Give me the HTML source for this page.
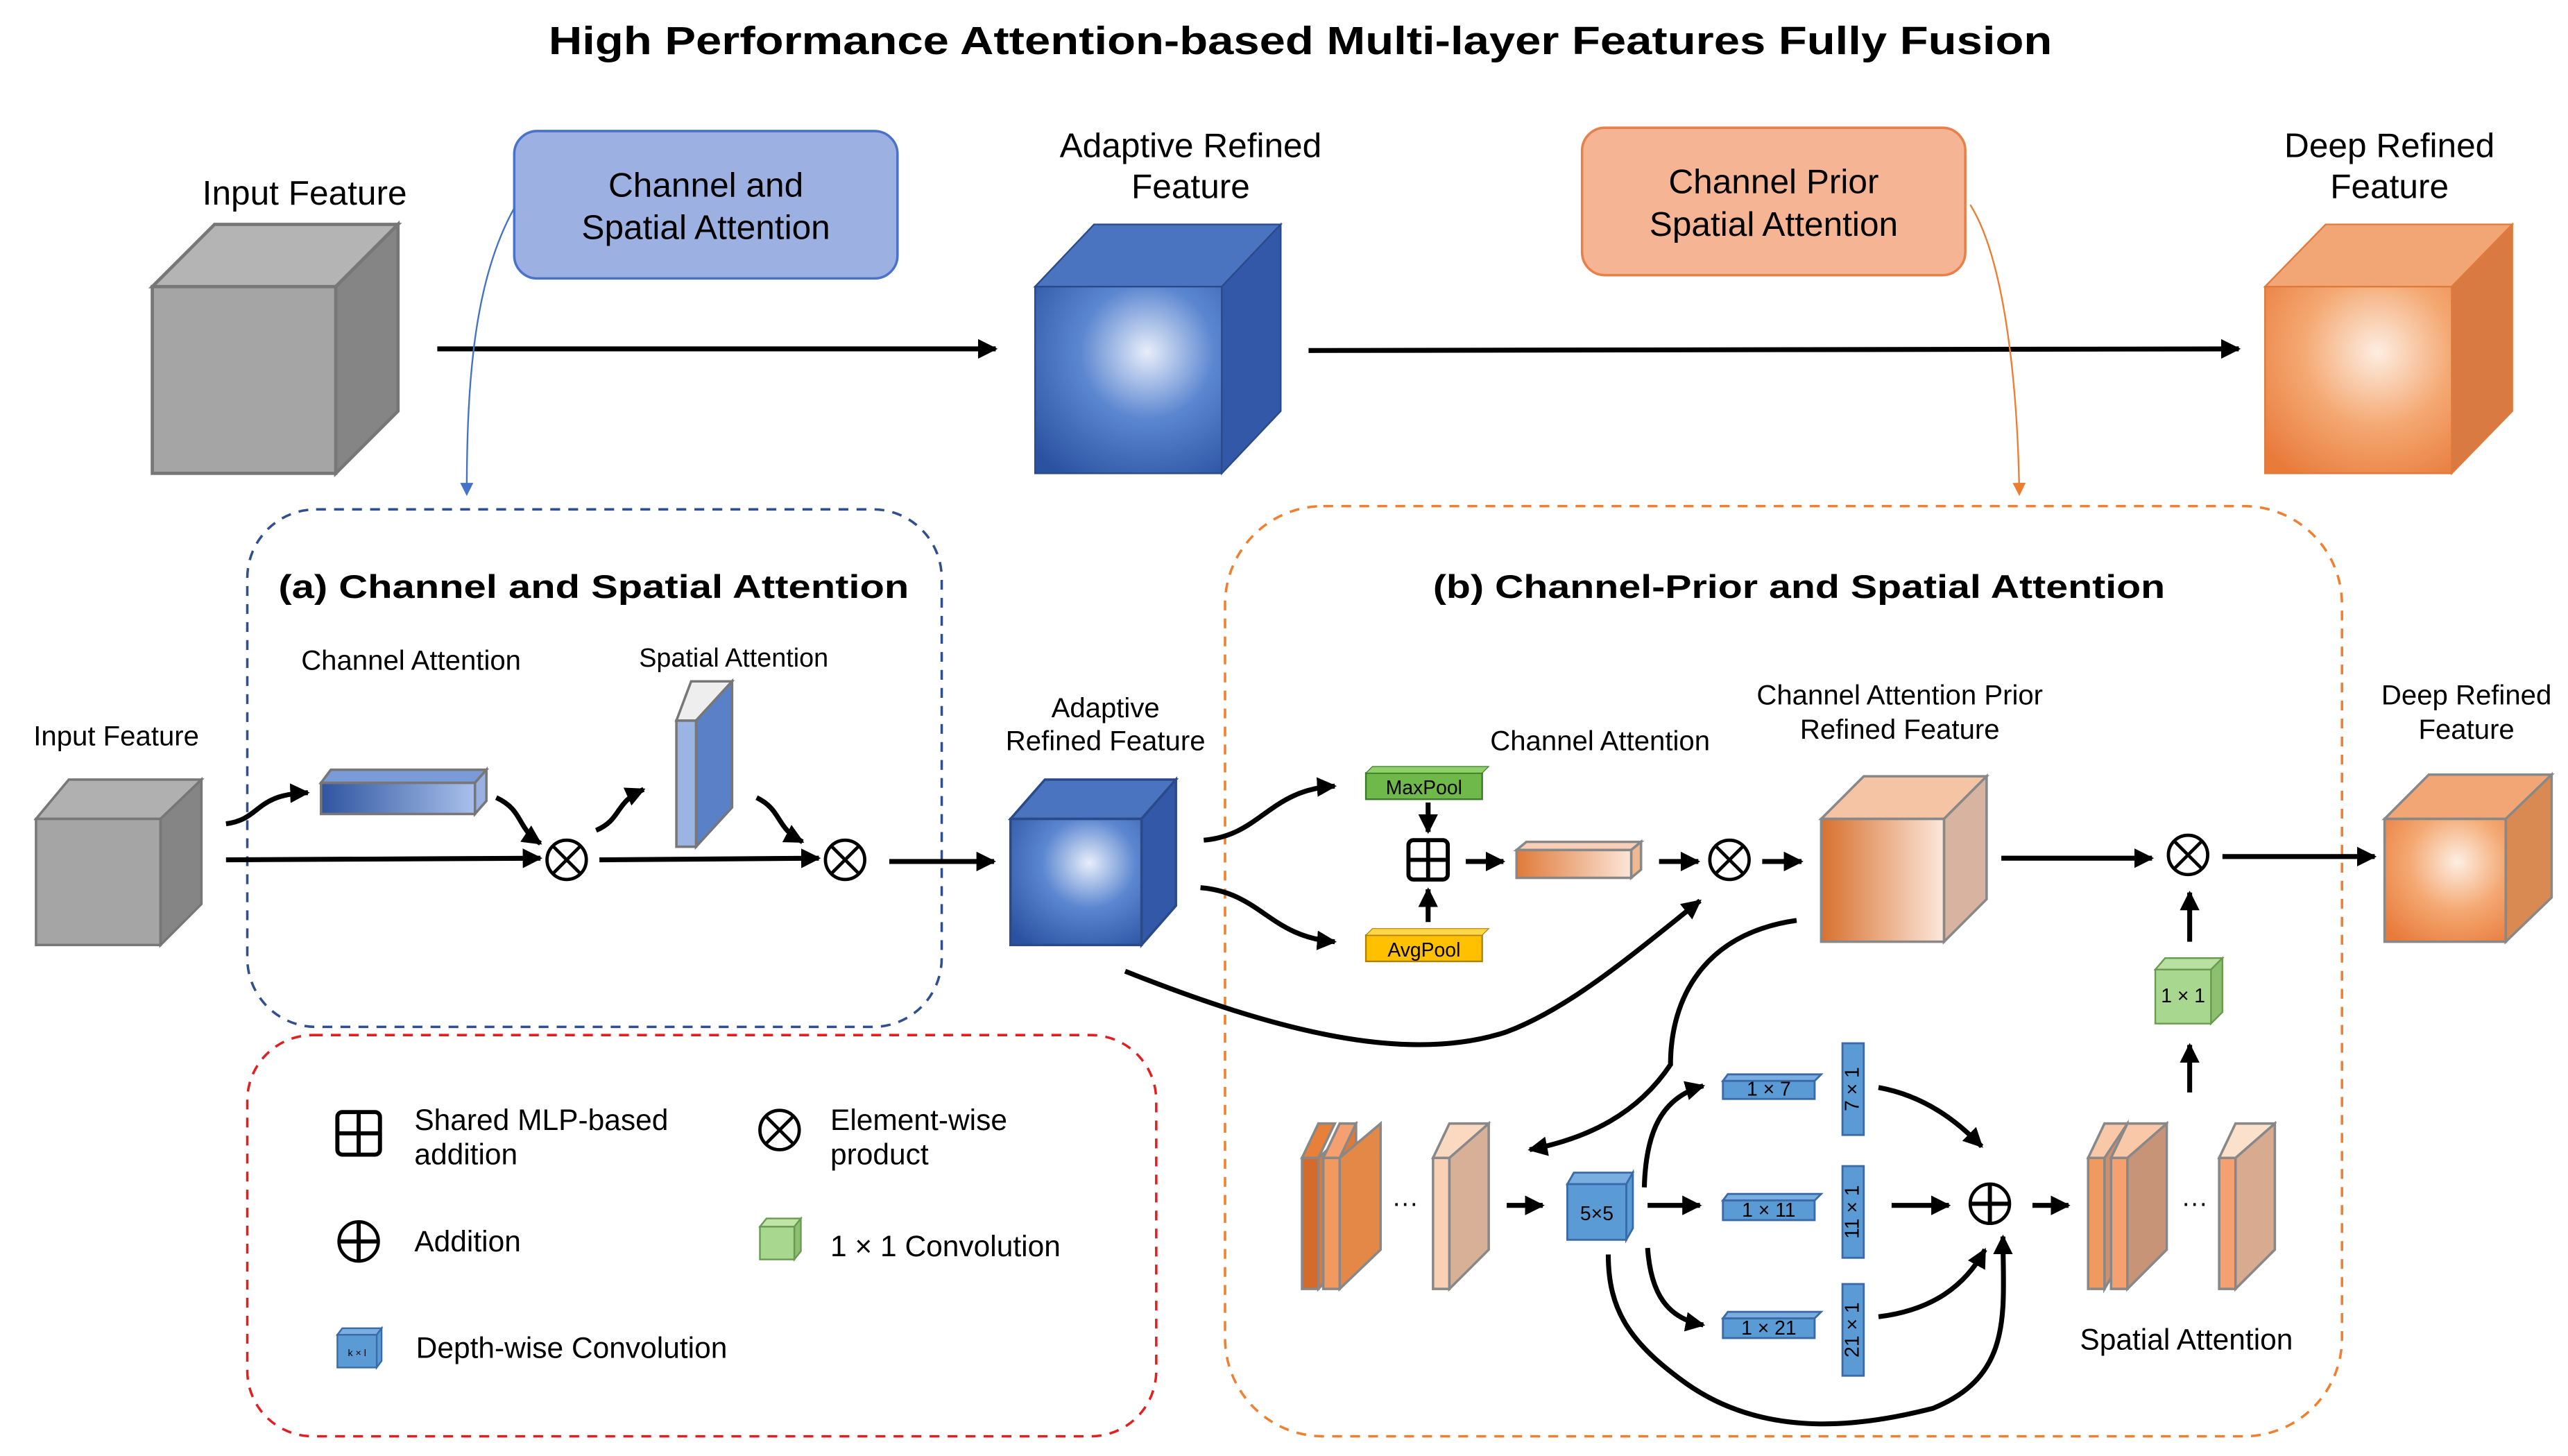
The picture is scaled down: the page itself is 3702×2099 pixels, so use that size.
<!DOCTYPE html>
<html><head><meta charset="utf-8"><style>html,body{margin:0;padding:0;background:#fff}svg{display:block}text{font-family:"Liberation Sans",Arial,sans-serif}</style></head>
<body>
<svg width="3702" height="2099" viewBox="0 0 1568 889" xmlns="http://www.w3.org/2000/svg">
<defs>
<radialGradient id="bl" cx="0.6" cy="0.35" r="0.8"><stop offset="0" stop-color="#e8eefa"/><stop offset="0.45" stop-color="#5b86d0"/><stop offset="1" stop-color="#2a52a0"/></radialGradient>
<radialGradient id="or" cx="0.6" cy="0.35" r="0.8"><stop offset="0" stop-color="#fdeee2"/><stop offset="0.5" stop-color="#f4a872"/><stop offset="1" stop-color="#e87a3a"/></radialGradient>
<linearGradient id="obar" x1="0" x2="1"><stop offset="0" stop-color="#e07a3a"/><stop offset="1" stop-color="#fbe6d8"/></linearGradient>
<linearGradient id="bbar" x1="0" x2="1"><stop offset="0" stop-color="#2f55a0"/><stop offset="1" stop-color="#a8c0ea"/></linearGradient>
<linearGradient id="ocube" x1="0" x2="1"><stop offset="0" stop-color="#d8702e"/><stop offset="1" stop-color="#fce8dc"/></linearGradient>
<marker id="ah" viewBox="0 0 10 10" refX="9" refY="5" markerWidth="4" markerHeight="4" orient="auto"><path d="M0,0L10,5L0,10z" fill="#000"/></marker>
<marker id="ahb" viewBox="0 0 10 10" refX="9" refY="5" markerWidth="8" markerHeight="8" orient="auto"><path d="M0,0L10,5L0,10z" fill="#4472c4"/></marker>
<marker id="aho" viewBox="0 0 10 10" refX="9" refY="5" markerWidth="8" markerHeight="8" orient="auto"><path d="M0,0L10,5L0,10z" fill="#ed7d31"/></marker>
</defs>
<text x="335" y="33" font-size="24" font-weight="bold" textLength="918" lengthAdjust="spacingAndGlyphs">High Performance Attention-based Multi-layer Features Fully Fusion</text>

<!-- top row -->
<text x="186" y="125" text-anchor="middle" font-size="21">Input Feature</text>
<g stroke="#777" stroke-width="2">
<polygon points="93,175 131,137 243,137 205,175" fill="#b4b4b4"/>
<polygon points="205,175 243,137 243,251 205,289" fill="#858585"/>
<rect x="93" y="175" width="112" height="114" fill="#a5a5a5"/>
</g>
<rect x="314" y="80" width="234" height="90" rx="14" fill="#9cb1e2" stroke="#4a72c8" stroke-width="1.5"/>
<text x="431" y="120" text-anchor="middle" font-size="21">Channel and</text>
<text x="431" y="146" text-anchor="middle" font-size="21">Spatial Attention</text>
<line x1="267" y1="213" x2="608" y2="213" stroke="#000" stroke-width="3" marker-end="url(#ah)"/>
<text x="727" y="96" text-anchor="middle" font-size="21">Adaptive Refined</text>
<text x="727" y="121" text-anchor="middle" font-size="21">Feature</text>
<g stroke="#2a4a8a" stroke-width="1">
<polygon points="632,175 668,137 782,137 746,175" fill="#4a74c0"/>
<polygon points="746,175 782,137 782,251 746,289" fill="#3358a8"/>
<rect x="632" y="175" width="114" height="114" fill="url(#bl)"/>
</g>
<line x1="799" y1="214" x2="1367" y2="213" stroke="#000" stroke-width="3" marker-end="url(#ah)"/>
<rect x="966" y="78" width="234" height="90" rx="14" fill="#f5b493" stroke="#e8804a" stroke-width="1.5"/>
<text x="1083" y="118" text-anchor="middle" font-size="21">Channel Prior</text>
<text x="1083" y="144" text-anchor="middle" font-size="21">Spatial Attention</text>
<text x="1459" y="96" text-anchor="middle" font-size="21">Deep Refined</text>
<text x="1459" y="121" text-anchor="middle" font-size="21">Feature</text>
<g stroke="#e07a3a" stroke-width="1">
<polygon points="1383,175 1420,137 1534,137 1497,175" fill="#f2a676"/>
<polygon points="1497,175 1534,137 1534,251 1497,289" fill="#d97a42"/>
<rect x="1383" y="175" width="114" height="114" fill="url(#or)"/>
</g>
<path d="M314,127 C290,170 285,230 285,302" fill="none" stroke="#4472c4" stroke-width="1" marker-end="url(#ahb)"/>
<path d="M1203,125 C1225,160 1232,240 1233,302" fill="none" stroke="#ed7d31" stroke-width="1" marker-end="url(#aho)"/>

<!-- dashed regions -->
<rect x="151" y="311" width="424" height="316" rx="42" fill="none" stroke="#2f4f8f" stroke-width="1.5" stroke-dasharray="6,5"/>
<rect x="748" y="309" width="682" height="568" rx="60" fill="none" stroke="#f08030" stroke-width="1.5" stroke-dasharray="6,5"/>
<rect x="151" y="632" width="555" height="245" rx="40" fill="none" stroke="#e02020" stroke-width="1.5" stroke-dasharray="6,5"/>

<text x="170" y="365" font-size="20" font-weight="bold" textLength="385" lengthAdjust="spacingAndGlyphs">(a) Channel and Spatial Attention</text>
<text x="875" y="365" font-size="20" font-weight="bold" textLength="447" lengthAdjust="spacingAndGlyphs">(b) Channel-Prior and Spatial Attention</text>

<!-- section a -->
<text x="71" y="455" text-anchor="middle" font-size="17">Input Feature</text>
<g stroke="#777" stroke-width="1.5">
<polygon points="22,500 42,476 123,476 98,500" fill="#b0b0b0"/>
<polygon points="98,500 123,476 123,552 98,577" fill="#858585"/>
<rect x="22" y="500" width="76" height="77" fill="#a5a5a5"/>
</g>
<text x="251" y="409" text-anchor="middle" font-size="17">Channel Attention</text>
<text x="448" y="407" text-anchor="middle" font-size="16">Spatial Attention</text>
<g stroke="#777" stroke-width="1.5">
<polygon points="196,478 202,470 297,470 290,478" fill="#7a9ad8"/>
<polygon points="290,478 297,470 297,489 290,497" fill="#9ab0e0"/>
<rect x="196" y="478" width="94" height="19" fill="url(#bbar)"/>
<polygon points="413,440 422,416 447,416 425,440" fill="#eee"/>
<polygon points="425,440 447,416 447,493 425,517" fill="#5a80c8"/>
<rect x="413" y="440" width="12" height="77" fill="#9ab4e4"/>
</g>
<g fill="none" stroke="#000" stroke-width="3">
<path d="M138,503 C160,500 155,485 188,484" marker-end="url(#ah)"/>
<path d="M303,487 C320,495 315,505 330,515" marker-end="url(#ah)"/>
<path d="M364,507 C380,500 375,490 393,482" marker-end="url(#ah)"/>
<path d="M462,487 C478,495 473,505 490,514" marker-end="url(#ah)"/>
<line x1="138" y1="525" x2="330" y2="524" marker-end="url(#ah)"/>
<line x1="366" y1="525" x2="500" y2="524" marker-end="url(#ah)"/>
<line x1="543" y1="526" x2="607" y2="526" marker-end="url(#ah)"/>
</g>
<g fill="#fff" stroke="#000" stroke-width="2">
<circle cx="346" cy="525" r="12"/><circle cx="516" cy="525" r="12"/>
<circle cx="1056" cy="525" r="12"/><circle cx="1336" cy="522" r="12"/>
</g>
<g stroke="#000" stroke-width="2">
<path d="M338,517L354,533M354,517L338,533"/><path d="M508,517L524,533M524,517L508,533"/>
<path d="M1048,517L1064,533M1064,517L1048,533"/><path d="M1328,514L1344,530M1344,514L1328,530"/>
</g>

<text x="675" y="438" text-anchor="middle" font-size="17">Adaptive</text>
<text x="675" y="458" text-anchor="middle" font-size="17">Refined Feature</text>
<g stroke="#2a4a8a" stroke-width="1.5">
<polygon points="617,500 638,476 718,476 697,500" fill="#4a74c0"/>
<polygon points="697,500 718,476 718,553 697,577" fill="#3358a8"/>
<rect x="617" y="500" width="80" height="77" fill="url(#bl)"/>
</g>

<!-- section b -->
<g fill="none" stroke="#000" stroke-width="3">
<path d="M735,513 C770,510 775,482 815,480" marker-end="url(#ah)"/>
<path d="M733,542 C770,545 775,572 815,575" marker-end="url(#ah)"/>
<line x1="872" y1="490" x2="872" y2="508" marker-end="url(#ah)"/>
<line x1="872" y1="563" x2="872" y2="543" marker-end="url(#ah)"/>
<line x1="895" y1="526" x2="918" y2="526" marker-end="url(#ah)"/>
<line x1="1013" y1="526" x2="1037" y2="526" marker-end="url(#ah)"/>
<line x1="1076" y1="526" x2="1100" y2="526" marker-end="url(#ah)"/>
<path d="M687,593 C780,630 860,650 920,630 C960,615 1000,580 1038,550" marker-end="url(#ah)"/>
<line x1="1222" y1="524" x2="1314" y2="524" marker-end="url(#ah)"/>
<line x1="1357" y1="523" x2="1450" y2="523" marker-end="url(#ah)"/>
<line x1="1337" y1="575" x2="1337" y2="545" marker-end="url(#ah)"/>
<line x1="1337" y1="667" x2="1337" y2="638" marker-end="url(#ah)"/>
<path d="M1097,562 C1040,570 1020,610 1020,650 C1000,680 970,695 934,702" marker-end="url(#ah)"/>
<line x1="920" y1="736" x2="942" y2="736" marker-end="url(#ah)"/>
<line x1="1006" y1="736" x2="1038" y2="736" marker-end="url(#ah)"/>
<path d="M1004,725 C1005,690 1015,670 1040,663" marker-end="url(#ah)"/>
<path d="M1006,762 C1008,790 1018,805 1040,809" marker-end="url(#ah)"/>
<line x1="1155" y1="736" x2="1190" y2="736" marker-end="url(#ah)"/>
<path d="M1147,664 C1180,670 1200,690 1210,700" marker-end="url(#ah)"/>
<path d="M1147,804 C1180,800 1200,785 1212,763" marker-end="url(#ah)"/>
<path d="M982,766 C982,800 995,820 1030,845 C1080,880 1140,870 1180,860 C1230,840 1223,800 1223,755" marker-end="url(#ah)"/>
<line x1="1241" y1="736" x2="1263" y2="736" marker-end="url(#ah)"/>
</g>
<rect x="834" y="472" width="71" height="16" fill="#6fb84a" stroke="#3a7a2a"/>
<polygon points="834,472 838,468 909,468 905,472" fill="#8fd06a" stroke="#3a7a2a" stroke-width="0.5"/>
<text x="869.5" y="485" text-anchor="middle" font-size="12">MaxPool</text>
<rect x="834" y="571" width="71" height="16" fill="#ffc000" stroke="#b08000"/>
<polygon points="834,571 838,567 909,567 905,571" fill="#ffd84a" stroke="#b08000" stroke-width="0.5"/>
<text x="869.5" y="584" text-anchor="middle" font-size="12">AvgPool</text>
<rect x="860" y="513" width="24" height="24" rx="3" fill="#fff" stroke="#000" stroke-width="2.5"/>
<path d="M872,513V537M860,525H884" stroke="#000" stroke-width="2.5"/>
<text x="977" y="458" text-anchor="middle" font-size="17">Channel Attention</text>
<g stroke="#888" stroke-width="1.5">
<polygon points="926,519 932,514 1002,514 996,519" fill="#f8d0b8"/>
<polygon points="996,519 1002,514 1002,531 996,536" fill="#f0b890"/>
<rect x="926" y="519" width="70" height="17" fill="url(#obar)"/>
</g>
<text x="1160" y="430" text-anchor="middle" font-size="17">Channel Attention Prior</text>
<text x="1160" y="451" text-anchor="middle" font-size="17">Refined Feature</text>
<g stroke="#888" stroke-width="1.5">
<polygon points="1112,500 1138,474 1213,474 1187,500" fill="#f5c4a4"/>
<polygon points="1187,500 1213,474 1213,549 1187,575" fill="#d8b4a0"/>
<rect x="1112" y="500" width="75" height="75" fill="url(#ocube)"/>
</g>
<text x="1506" y="430" text-anchor="middle" font-size="17">Deep Refined</text>
<text x="1506" y="451" text-anchor="middle" font-size="17">Feature</text>
<g stroke="#888" stroke-width="1.5">
<polygon points="1456,500 1483,473 1558,473 1530,500" fill="#f2a676"/>
<polygon points="1530,500 1558,473 1558,548 1530,575" fill="#d88a52"/>
<rect x="1456" y="500" width="74" height="75" fill="url(#or)"/>
</g>

<!-- bottom slabs -->
<g stroke="#888" stroke-width="1.5">
<polygon points="795,707 805,686 815,686 805,707" fill="#e8803a"/>
<rect x="795" y="707" width="10" height="80" fill="#d66a2a"/>
<polygon points="805,707 828,686 828,763 805,787" fill="#dd7a3a"/>
<polygon points="808,707 818,686 828,686 818,707" fill="#f4a070"/>
<rect x="808" y="707" width="10" height="80" fill="#f09a60"/>
<polygon points="818,707 843,686 843,763 818,787" fill="#e48848"/>
<polygon points="875,707 885,686 909,686 899,707" fill="#fbd8c0"/>
<rect x="875" y="707" width="10" height="80" fill="#f8d0b4"/>
<polygon points="885,707 909,686 909,763 885,787" fill="#d8b098"/>
<polygon points="1275,707 1285,686 1299,686 1289,707" fill="#f8c8a8"/>
<rect x="1275" y="707" width="10" height="80" fill="#f09a60"/>
<polygon points="1285,707 1299,686 1299,763 1285,787" fill="#d09070"/>
<polygon points="1289,707 1299,686 1323,686 1313,707" fill="#f8c8a8"/>
<rect x="1289" y="707" width="10" height="80" fill="#f4a070"/>
<polygon points="1299,707 1323,686 1323,763 1299,787" fill="#c89478"/>
<polygon points="1355,707 1365,686 1389,686 1379,707" fill="#fbe0cc"/>
<rect x="1355" y="707" width="10" height="80" fill="#f4a070"/>
<polygon points="1365,707 1389,686 1389,763 1365,787" fill="#d8aa90"/>
</g>
<text x="858" y="740" text-anchor="middle" font-size="16">···</text>
<text x="1340" y="740" text-anchor="middle" font-size="16">···</text>

<g stroke="#3a6aa8" stroke-width="1.2" fill="#5b9bd5">
<polygon points="957,723 961,716 997,716 993,723" fill="#7aaee0"/>
<polygon points="993,723 997,716 997,750 993,757"/>
<rect x="957" y="723" width="36" height="34"/>
<polygon points="1052,660 1055,656 1112,656 1108,660" fill="#7aaee0"/>
<rect x="1052" y="660" width="56" height="11"/>
<polygon points="1052,733 1055,729 1112,729 1108,733" fill="#7aaee0"/>
<rect x="1052" y="733" width="56" height="12"/>
<polygon points="1052,805 1055,801 1112,801 1108,805" fill="#7aaee0"/>
<rect x="1052" y="805" width="56" height="12"/>
<rect x="1125" y="637" width="13" height="56"/>
<rect x="1125" y="712" width="13" height="56"/>
<rect x="1125" y="784" width="13" height="56"/>
</g>
<g font-size="12">
<text x="975" y="745" text-anchor="middle">5×5</text>
<text x="1080" y="669" text-anchor="middle">1 × 7</text>
<text x="1080" y="743" text-anchor="middle">1 × 11</text>
<text x="1080" y="815" text-anchor="middle">1 × 21</text>
<text transform="translate(1135,665) rotate(-90)" text-anchor="middle">7 × 1</text>
<text transform="translate(1135,740) rotate(-90)" text-anchor="middle">11 × 1</text>
<text transform="translate(1135,812) rotate(-90)" text-anchor="middle">21 × 1</text>
</g>
<circle cx="1215" cy="735" r="12" fill="#fff" stroke="#000" stroke-width="2"/>
<path d="M1215,723V747M1203,735H1227" stroke="#000" stroke-width="2.5"/>
<g stroke="#6a9a50" stroke-width="1">
<polygon points="1316,592 1322,585 1357,585 1350,592" fill="#b8e0a0"/>
<polygon points="1350,592 1357,585 1357,618 1350,625" fill="#8cc070"/>
<rect x="1316" y="592" width="34" height="33" fill="#a8d890"/>
</g>
<text x="1333" y="612" text-anchor="middle" font-size="12">1 × 1</text>
<text x="1335" y="824" text-anchor="middle" font-size="18">Spatial Attention</text>

<!-- legend -->
<rect x="206" y="679" width="26" height="26" rx="3" fill="#fff" stroke="#000" stroke-width="2.5"/>
<path d="M219,679V705M206,692H232" stroke="#000" stroke-width="2.5"/>
<text x="253" y="690" font-size="18">Shared MLP-based</text>
<text x="253" y="711" font-size="18">addition</text>
<circle cx="476" cy="690" r="12" fill="#fff" stroke="#000" stroke-width="2"/>
<path d="M468,682L484,698M484,682L468,698" stroke="#000" stroke-width="2"/>
<text x="507" y="690" font-size="18">Element-wise</text>
<text x="507" y="711" font-size="18">product</text>
<circle cx="219" cy="758" r="12" fill="#fff" stroke="#000" stroke-width="2"/>
<path d="M219,746V770M207,758H231" stroke="#000" stroke-width="2.5"/>
<text x="253" y="764" font-size="18">Addition</text>
<g stroke="#6a9a50" stroke-width="1">
<polygon points="464,749 468,744 489,744 485,749" fill="#c0e4a8"/>
<polygon points="485,749 489,744 489,764 485,769" fill="#8cc070"/>
<rect x="464" y="749" width="21" height="20" fill="#a8d890"/>
</g>
<text x="507" y="767" font-size="18">1 × 1 Convolution</text>
<g stroke="#3a6aa8" stroke-width="1" fill="#5b9bd5">
<polygon points="206,815 209,811 233,811 230,815" fill="#7aaee0"/>
<polygon points="230,815 233,811 233,831 230,835"/>
<rect x="206" y="815" width="24" height="20"/>
</g>
<text x="218" y="828" text-anchor="middle" font-size="6">k × l</text>
<text x="254" y="829" font-size="18">Depth-wise Convolution</text>
</svg>
</body></html>
